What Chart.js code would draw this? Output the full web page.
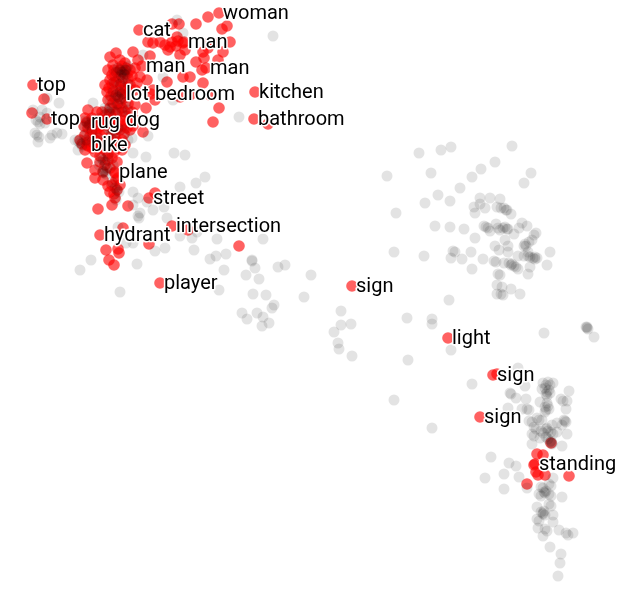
<!DOCTYPE html>
<html>
<head>
<meta charset="utf-8">
<title>scatter</title>
<script src="https://cdn.jsdelivr.net/npm/chart.js@4"></script>
<style>
  body { margin: 0; background: #fff; }
  canvas { display: block; }
</style>
</head>
<body>
<canvas id="myChart" width="627" height="589"></canvas>
<script>
// words that get a label, with the point each one belongs to
const labelWords = ['woman', 'cat', 'man', 'man', 'man', 'top', 'top', 'lot', 'bedroom', 'kitchen', 'bathroom', 'rug', 'dog', 'bike', 'plane', 'street', 'intersection', 'hydrant', 'player', 'sign', 'light', 'sign', 'sign', 'standing'];
const labelPoints = [[219,13],[139,30],[184,42],[142,66],[206,68],[33,85],[47,119],[122,94],[151,94],[255,92],[254,119],[87,122],[122,120],[87,145],[115,172],[149,198],[172,226],[100,235],[160,283],[352,286],[448,338],[493,375],[480,417],[535,464]];

const redPoints = [
  [208,17],[196,24],[227,26],[222,29],[179,24],[172,24],[148,42],[153,43],[165,45],[172,42],[177,37],[183,43],[168,50],[180,55],[203,52],[208,48],[223,52],[230,42],[218,60],[196,62],[202,70],[190,77],[183,77],[203,83],[167,82],[116,53],[110,57],[133,52],[138,60],[150,56],
  [160,42],[170,47],[176,46],[178,41],[185,50],[204,58],[207,44],[213,43],
  [146,108],[219,108],[213,122],[143,132],[268,124],[180,97],[190,95],[210,95],[153,90],[155,100],[140,77],[147,80],[137,83],
  [108,70],[113,65],[120,60],[125,63],[130,70],[135,68],[112,75],[118,72],[124,72],[128,78],[105,85],[110,80],[116,82],[122,82],[130,85],[135,90],[107,92],[113,90],[120,90],[126,95],
  [122,66],[126,68],[119,78],[114,70],[127,74],[132,76],[121,86],[117,94],[111,96],[124,98],[129,92],[112,84],[125,88],[115,76],[109,88],[120,70],
  [108,100],[115,98],[120,104],[128,104],[135,105],[110,108],[118,110],[125,112],[132,112],[88,110],[85,118],[92,118],[97,112],[100,120],[105,115],[112,118],[118,122],[128,122],[135,120],[90,125],[98,128],[105,125],[112,128],[120,130],[130,130],
  [113,103],[122,108],[116,114],[126,116],[108,122],[102,112],[94,122],[88,128],[96,134],[104,130],[113,124],[122,126],[127,128],[133,126],[117,104],[110,114],[100,126],[92,132],[106,120],[115,130],[124,134],[84,126],
  [80,140],[85,135],[88,142],[95,140],[100,135],[108,138],[115,135],[122,140],[85,150],[92,148],[100,148],[110,145],[118,148],[125,145],
  [82,144],[90,136],[98,144],[104,142],[112,140],[118,142],[105,150],[95,152],[88,146],[114,152],[122,150],[108,154],
  [87,163],[100,162],[108,160],[117,162],[95,170],[103,172],[95,178],[103,180],[115,173],[120,185],[110,192],[117,190],[115,198],[112,205],[98,209],[128,206],[155,193],[188,230],[123,228],[149,244],[118,249],[119,253],[106,250],[109,260],[114,265],[239,246],
  [105,165],[112,158],[100,156],[110,168],[116,180],[112,185],[118,178],[114,194],[108,186],
  [32,113],[44,99],[497,374],[551,443],[537,454],[543,455],[534,465],[536,472],[538,475],[545,475],[569,476],[527,484]
];

const grayPoints = [
  [133,153],[146,157],[174,153],[185,155],[133,192],[138,198],[147,202],[153,210],[164,207],[180,187],[196,183],[205,177],[140,213],[139,218],[138,216],[133,205],[167,218],[180,236],[197,232],[192,238],[217,239],[263,239],[165,248],[155,251],[194,250],[133,243],[126,243],[118,227],[210,259],[216,256],[226,254],[252,260],[252,261],[255,268],[278,267],[285,265],[311,275],[224,270],[246,275],[259,279],[219,290],[253,294],[266,295],[304,297],[274,305],[272,308],[242,313],[247,319],[257,313],[263,317],[269,323],[262,326],[137,264],[91,260],[80,270],[120,292],
  [47,98],[59,103],[33,110],[42,110],[40,117],[38,122],[36,120],[40,124],[45,123],[53,118],[47,113],[37,135],[35,133],[39,137],[38,142],[52,135],[62,134],[50,138],[57,133],
  [93,103],[148,136],[173,100],[163,77],[177,20],[183,33],[273,36],[239,117],[143,55],[75,140],[78,150],[105,172],[103,171],[106,174],[125,70],[125,75],[128,140],[132,138],[120,92],[112,128],[92,130],
  // los que oscurecen el rojo
  [122,72],[120,70],[124,74],[121,75],[118,68],[126,70],[128,66],[116,72],[123,78],[114,82],[120,84],[128,84],
  [118,97],[116,95],[120,99],[113,92],[122,94],[110,100],[126,102],[118,104],[107,110],[105,108],[109,112],[112,108],[115,112],[122,112],[128,110],
  [87,123],[85,121],[89,125],[92,120],[95,124],[84,127],[100,118],[113,133],[111,131],[115,135],[108,128],[118,128],[124,130],
  [80,143],[82,146],[78,141],[86,140],[84,136],[92,142],[105,140],[98,138],
  [103,160],[101,158],[105,162],[108,156],[99,165],[103,173],[107,168],[113,165],[117,190],[115,188],[119,192],[112,182],[116,200],
  [419,153],[441,150],[451,147],[512,146],[495,162],[481,169],[472,177],[431,173],[387,176],[531,173],[524,183],[460,188],[438,195],[450,201],[425,203],[396,213],[480,198],[490,198],[500,199],[480,204],[474,207],[485,208],[475,213],[497,207],[501,208],[504,208],[506,210],[507,210],[511,214],[435,226],[450,227],[464,229],[484,226],[486,227],[488,228],[490,231],[496,224],[498,228],[500,230],[503,228],[505,227],[507,229],[508,229],[519,228],[522,223],[527,226],[514,234],[534,235],[536,233],[532,240],[529,242],[524,246],[525,244],[526,246],[475,238],[495,246],[505,240],[508,246],[499,250],[508,252],[471,252],[453,251],[455,252],[394,252],[424,256],[451,258],[462,259],[483,259],[494,261],[496,262],[504,263],[509,263],[511,265],[512,264],[514,266],[516,267],[518,269],[518,256],[524,256],[528,252],[528,256],[530,257],[533,258],[535,257],[535,259],[537,258],[550,252],[547,265],[530,267],[528,274],[472,269],[498,274],[500,275],[497,285],[502,287],[511,289],[520,294],[497,294],[501,294],[503,295],[449,300],[407,318],[432,319],[432,324],[451,350],[544,333],[586,327],[587,328],[588,329],[587,327],[594,337],
  [341,311],[351,324],[341,325],[334,332],[338,343],[339,349],[352,356],[408,360],[394,400],[472,384],[432,428],
  [518,368],[525,386],[510,393],[511,394],[516,398],[526,399],[508,408],[522,409],[527,409],[529,410],
  [543,383],[546,385],[548,382],[550,385],[553,383],[542,389],[545,388],[547,392],[549,390],[546,394],[550,393],[547,396],[569,391],[561,399],[563,401],[567,401],[566,409],[540,402],[547,403],[545,407],[548,406],[546,410],[549,409],[545,412],[529,421],[532,422],[537,418],[539,420],[542,420],[552,425],[557,423],[564,420],[566,422],[565,421],[562,425],[567,434],[534,427],[536,429],[541,431],[543,433],[546,429],[548,431],[547,428],[551,432],[553,434],[557,432],[532,434],[534,436],[540,438],[546,437],[548,439],[532,444],[550,442],[552,444],[551,441],[552,443],[562,446],
  [491,457],[509,463],[516,466],[504,474],[485,478],[519,477],[504,489],[527,488],[553,478],[549,484],[551,486],[541,487],[543,488],[544,492],[546,491],[545,493],[539,494],[541,496],[549,494],[551,496],[562,497],[537,507],[549,504],[551,506],[541,512],[543,513],[544,511],[545,515],[543,514],[537,519],[539,521],[553,515],[553,522],[545,529],[547,531],[538,528],[543,536],[559,530],[566,533],[568,535],[573,533],[550,547],[561,554],[560,563],[558,576]
];

const ctx = document.getElementById('myChart').getContext('2d');

const toXY = p => ({ x: p[0], y: p[1] });

// texto encima de los puntos, con halo blanco
const wordLabels = {
  id: 'wordLabels',
  afterDatasetsDraw(chart) {
    const c = chart.ctx;
    c.save();
    c.font = '20px Roboto';
    c.textBaseline = 'middle';
    c.lineJoin = 'round';
    labelWords.forEach((word, i) => {
      const px = chart.scales.x.getPixelForValue(labelPoints[i][0]) + 4;
      const py = chart.scales.y.getPixelForValue(labelPoints[i][1]) + 1;
      c.lineWidth = 3;
      c.strokeStyle = '#fff';
      c.strokeText(word, px, py);
      c.fillStyle = '#000';
      c.fillText(word, px, py);
    });
    c.restore();
  }
};

new Chart(ctx, {
  type: 'scatter',
  data: {
    datasets: [
      { // gris encima del rojo
        data: grayPoints.map(toXY),
        backgroundColor: 'rgba(0,0,0,0.11)',
        borderWidth: 0,
        pointRadius: 5.5
      },
      {
        data: redPoints.concat(labelPoints).map(toXY),
        backgroundColor: 'rgba(255,0,0,0.62)',
        borderWidth: 0,
        pointRadius: 5.8
      }
    ]
  },
  options: {
    responsive: false,
    animation: false,
    events: [],
    plugins: {
      legend: { display: false },
      tooltip: { enabled: false }
    },
    layout: { padding: 0, autoPadding: false },
    scales: {
      x: { display: false, min: 0, max: 627 },
      y: { display: false, min: 0, max: 589, reverse: true }
    }
  },
  plugins: [wordLabels]
});
</script>
</body>
</html>
